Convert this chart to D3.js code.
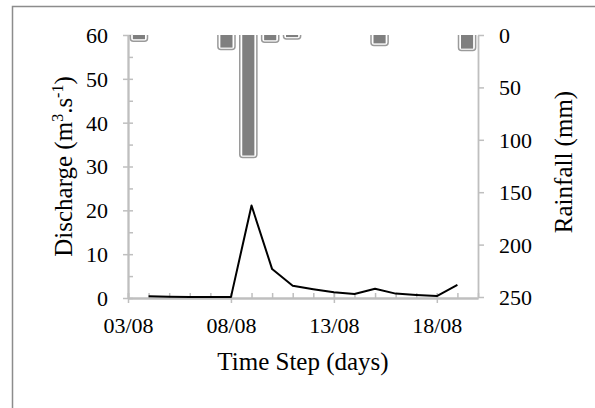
<!DOCTYPE html>
<html>
<head>
<meta charset="utf-8">
<script src="https://cdn.jsdelivr.net/npm/d3@7"></script>
<style>
  html, body { margin: 0; padding: 0; background: #fff; }
  svg { display: block; }
</style>
</head>
<body>
<svg id="chart" width="595" height="408"></svg>
<script>
// Daily series, 04/08 to 19/08
const days = ["04/08","05/08","06/08","07/08","08/08","09/08","10/08","11/08",
              "12/08","13/08","14/08","15/08","16/08","17/08","18/08","19/08"];
const discharge = [0.4, 0.3, 0.2, 0.2, 0.2, 21.1, 6.6, 2.8, 2.0, 1.3, 0.9, 2.1, 1.0, 0.7, 0.45, 3.0];
const rainfall  = [4, 0, 0, 0, 12, 115, 5, 2, 0, 0, 0, 8, 0, 0, 0, 13];

// Axis ticks
const dischargeTicks = [0, 10, 20, 30, 40, 50, 60];
const dischargeMinor = [5, 15, 25, 35, 45, 55];
const rainfallTicks = [0, 50, 100, 150, 200, 250];
const dateTickLabels = ["03/08", "08/08", "13/08", "18/08"];

const FONT = "Liberation Serif";
const parseDay = s => new Date(Date.UTC(2000, +s.slice(3, 5) - 1, +s.slice(0, 2)));
const fmtDay = d3.utcFormat("%d/%m");

const svg = d3.select("#chart").attr("font-family", FONT);
const plot = { left: 128, right: 478, top: 35, bottom: 298 };
const axisColor = "#bfbfbf";

// outer frame
svg.append("rect")
  .attr("x", 12.5).attr("y", 6.5).attr("width", 640).attr("height", 460)
  .attr("fill", "none").attr("stroke", "#8c8c8c").attr("stroke-width", 1.5);

// scales
const x = d3.scaleUtc()
  .domain([parseDay("03/08"), parseDay("20/08")])
  .range([plot.left, plot.right]);
const xBand = d3.scaleBand()
  .domain(days)
  .range([plot.left, plot.right])
  .paddingInner(0.4).paddingOuter(0.2);
const yL = d3.scaleLinear().domain([0, 60]).range([plot.bottom, plot.top]);
const yR = d3.scaleLinear().domain([0, 250]).range([plot.top, plot.bottom - 1]);

function styleAxis(g) {
  g.attr("font-family", FONT).attr("font-size", 22);
  g.selectAll(".domain").attr("stroke", axisColor).attr("stroke-width", 1.8);
  g.selectAll(".tick line").attr("stroke", axisColor).attr("stroke-width", 1.5);
  g.selectAll(".tick text").attr("font-family", FONT).attr("font-size", 22).attr("fill", "#000");
}

// left axis: minor ticks inside, major ticks crossing
svg.append("g").attr("transform", `translate(${plot.left},0)`)
  .call(d3.axisLeft(yL).tickValues(dischargeMinor).tickSize(-5).tickSizeOuter(0).tickFormat(""))
  .call(styleAxis);
const gL = svg.append("g").attr("transform", `translate(${plot.left},0)`)
  .call(d3.axisLeft(yL).tickValues(dischargeTicks).tickSize(5).tickSizeOuter(0).tickPadding(15))
  .call(styleAxis);
gL.selectAll(".tick line").attr("x1", 5).attr("x2", -5);
gL.selectAll(".tick text").attr("dy", "0.34em");

// right axis (rainfall, inverted)
const gR = svg.append("g").attr("transform", `translate(${plot.right},0)`)
  .call(d3.axisRight(yR).tickValues(rainfallTicks).tickSize(6).tickSizeOuter(0).tickPadding(15))
  .call(styleAxis);
gR.selectAll(".tick text").attr("dy", "0.34em");

// bottom axis: daily minor ticks above, labelled majors crossing
const allDays = d3.utcDay.range(parseDay("03/08"), d3.utcDay.offset(parseDay("20/08"), 1));
svg.append("g").attr("transform", `translate(0,${plot.bottom})`)
  .call(d3.axisBottom(x).tickValues(allDays).tickSize(-5).tickSizeOuter(0).tickFormat(""))
  .call(styleAxis);
const gB = svg.append("g").attr("transform", `translate(0,${plot.bottom})`)
  .call(d3.axisBottom(x).tickValues(dateTickLabels.map(parseDay)).tickSize(5)
        .tickSizeOuter(0).tickFormat(fmtDay).tickPadding(14))
  .call(styleAxis);
gB.selectAll(".tick line").attr("y1", -5).attr("y2", 5);

// rainfall bars hanging from the top
svg.append("clipPath").attr("id", "plotClip")
  .append("rect").attr("x", plot.left).attr("y", plot.top)
  .attr("width", plot.right - plot.left).attr("height", plot.bottom - plot.top);
const bars = svg.append("g").attr("clip-path", "url(#plotClip)");
const rainData = days.map((d, i) => ({ day: d, v: rainfall[i] })).filter(d => d.v > 0);
bars.selectAll("rect.outline").data(rainData).join("rect")
  .attr("class", "outline")
  .attr("x", d => xBand(d.day) - 2)
  .attr("y", yR(0) - 6)
  .attr("width", xBand.bandwidth() + 4)
  .attr("height", d => yR(d.v) - yR(0) + 8)
  .attr("rx", 3)
  .attr("fill", "#fff").attr("stroke", "#9a9a9a").attr("stroke-width", 1.5);
bars.selectAll("rect.fill").data(rainData).join("rect")
  .attr("class", "fill")
  .attr("x", d => xBand(d.day) + 0.5)
  .attr("y", yR(0) - 2)
  .attr("width", xBand.bandwidth() - 1)
  .attr("height", d => yR(d.v) - yR(0) + 2)
  .attr("fill", "#7f7f7f");

// discharge line
const line = d3.line()
  .x((d, i) => x(parseDay(days[i])))
  .y(d => yL(d));
svg.append("path").datum(discharge)
  .attr("d", line)
  .attr("fill", "none").attr("stroke", "#000").attr("stroke-width", 2)
  .attr("stroke-linejoin", "round");

// axis titles
svg.append("text")
  .attr("x", (plot.left + plot.right) / 2).attr("y", 370)
  .attr("text-anchor", "middle").attr("font-family", FONT).attr("font-size", 25)
  .text("Time Step (days)");

const yTitle = svg.append("text")
  .attr("transform", `translate(72,${(plot.top + plot.bottom) / 2}) rotate(-90)`)
  .attr("text-anchor", "middle").attr("font-family", FONT).attr("font-size", 25);
yTitle.append("tspan").text("Discharge (m");
yTitle.append("tspan").attr("dy", -9).attr("font-size", 16).text("3");
yTitle.append("tspan").attr("dy", 9).text(".s");
yTitle.append("tspan").attr("dy", -9).attr("font-size", 16).text("-1");
yTitle.append("tspan").attr("dy", 9).text(")");

svg.append("text")
  .attr("transform", `translate(572,162) rotate(-90)`)
  .attr("text-anchor", "middle").attr("font-family", FONT).attr("font-size", 25)
  .text("Rainfall (mm)");
</script>
</body>
</html>
